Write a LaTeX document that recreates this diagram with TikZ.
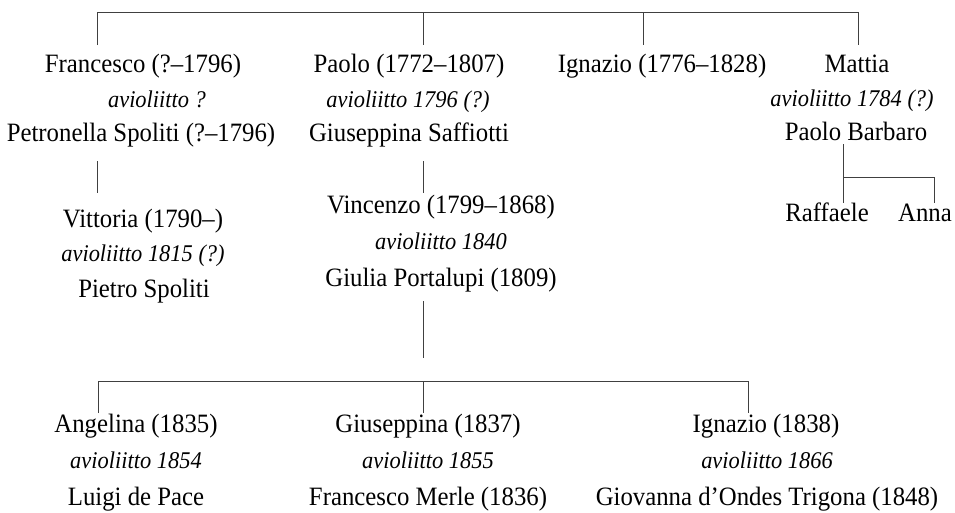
\documentclass[tikz,border=0pt]{standalone}
\usepackage{fontspec}
\setmainfont{Liberation Serif}[FakeStretch=0.935]
\begin{document}
\begin{tikzpicture}[x=1pt,y=-1pt,
  person/.style={font=\fontsize{26.5}{30}\selectfont, anchor=base, inner sep=0pt},
  marr/.style={font=\fontsize{24}{27}\selectfont\itshape, anchor=base, inner sep=0pt},
  link/.style={line width=0.9pt, draw=black!75}]
\useasboundingbox (0,0) rectangle (955,512);
% people
\node[person] (fran) at (143,72) {Francesco (?–1796)};
\node[marr] (franm) at (157,107) {avioliitto ?};
\node[person] (petr) at (141,141) {Petronella Spoliti (?–1796)};
\node[person] (paolo) at (409,72) {Paolo (1772–1807)};
\node[marr] (paolom) at (408,107) {avioliitto 1796 (?)};
\node[person] (gsaff) at (409,141) {Giuseppina Saffiotti};
\node[person] (ign) at (662,72) {Ignazio (1776–1828)};
\node[person] (mattia) at (857,72) {Mattia};
\node[marr] (mattiam) at (852,106) {avioliitto 1784 (?)};
\node[person] (pbarb) at (856,140) {Paolo Barbaro};
\node[person] (raff) at (827,221) {Raffaele};
\node[person] (anna) at (925,221) {Anna};
\node[person] (vitt) at (143,227) {Vittoria (1790–)};
\node[marr] (vittm) at (143,261) {avioliitto 1815 (?)};
\node[person] (pietro) at (144,297) {Pietro Spoliti};
\node[person] (vinc) at (441,213) {Vincenzo (1799–1868)};
\node[marr] (vincm) at (441,249) {avioliitto 1840};
\node[person] (giulia) at (441,286) {Giulia Portalupi (1809)};
\node[person] (ang) at (136,432) {Angelina (1835)};
\node[marr] (angm) at (136,468) {avioliitto 1854};
\node[person] (luigi) at (136,505) {Luigi de Pace};
\node[person] (gius) at (428,432) {Giuseppina (1837)};
\node[marr] (giusm) at (428,468) {avioliitto 1855};
\node[person] (fmerle) at (428,505) {Francesco Merle (1836)};
\node[person] (ign2) at (766,432) {Ignazio (1838)};
\node[marr] (ign2m) at (767,468) {avioliitto 1866};
\node[person] (giov) at (767,505) {Giovanna d’Ondes Trigona (1848)};
% connector points
\coordinate (tA) at (97,12);  \coordinate (tAd) at (97,45);
\coordinate (tB) at (423,12); \coordinate (tBd) at (423,45);
\coordinate (tC) at (643,12); \coordinate (tCd) at (643,45);
\coordinate (tD) at (858,12); \coordinate (tDd) at (858,45);
\coordinate (fA) at (97,161); \coordinate (fAd) at (97,193);
\coordinate (pA) at (423,161); \coordinate (pAd) at (423,193);
\coordinate (vA) at (423,301); \coordinate (vAd) at (423,358);
\coordinate (bA) at (98,381);  \coordinate (bAd) at (98,413);
\coordinate (bB) at (423,381); \coordinate (bBd) at (423,413);
\coordinate (bC) at (748,381); \coordinate (bCd) at (748,413);
\coordinate (mA) at (843,144); \coordinate (mJ) at (843,177); \coordinate (mAd) at (843,203);
\coordinate (mB) at (934,177); \coordinate (mBd) at (934,203);
% connectors
\draw[link] (tAd) -- (tA) -- (tD) -- (tDd);
\draw[link] (tB) -- (tBd);
\draw[link] (tC) -- (tCd);
\draw[link] (fA) -- (fAd);
\draw[link] (pA) -- (pAd);
\draw[link] (vA) -- (vAd);
\draw[link] (bAd) -- (bA) -- (bC) -- (bCd);
\draw[link] (bB) -- (bBd);
\draw[link] (mA) -- (mAd);
\draw[link] (mJ) -- (mB) -- (mBd);
\end{tikzpicture}
\end{document}
